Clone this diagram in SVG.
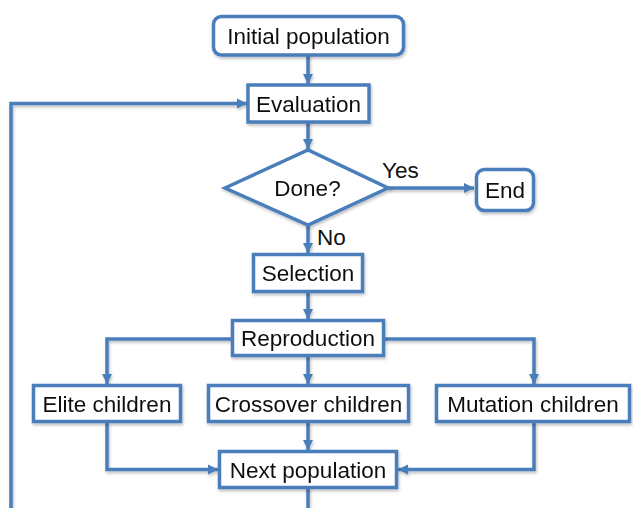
<svg xmlns="http://www.w3.org/2000/svg" width="633" height="508" viewBox="0 0 633 508">
<defs>
<marker id="ah" markerUnits="userSpaceOnUse" markerWidth="12" markerHeight="12" viewBox="0 0 12 12" refX="11" refY="6" orient="auto">
<path d="M1,1 L11,6 L1,11 Z" fill="#4A7EBB"/>
</marker>
<filter id="sh" x="-10%" y="-10%" width="120%" height="130%">
<feDropShadow dx="1" dy="2" stdDeviation="1.5" flood-color="#000" flood-opacity="0.25"/>
</filter>
</defs>
<style>
.box{fill:#fff;stroke:#4A7EBB;stroke-width:3.5}
.ln{fill:none;stroke:#4A7EBB;stroke-width:3.5}
text{font-family:"Liberation Sans",Arial,sans-serif;font-size:22.5px;fill:#111;text-anchor:middle}
.lb{text-anchor:start}
</style>
<rect width="633" height="508" fill="#fff"/>
<g id="connectors" filter="url(#sh)">
<path class="ln" d="M308,55 V84" marker-end="url(#ah)"/>
<path class="ln" d="M11,508 V103.5 H247" marker-end="url(#ah)"/>
<path class="ln" d="M308,122 V149" marker-end="url(#ah)"/>
<path class="ln" d="M388,188 H474" marker-end="url(#ah)"/>
<path class="ln" d="M308,225 V253" marker-end="url(#ah)"/>
<path class="ln" d="M308,292 V319" marker-end="url(#ah)"/>
<path class="ln" d="M232,339 H107 V384" marker-end="url(#ah)"/>
<path class="ln" d="M384,339 H534 V384" marker-end="url(#ah)"/>
<path class="ln" d="M308,356 V384" marker-end="url(#ah)"/>
<path class="ln" d="M107,422 V469.5 H218" marker-end="url(#ah)"/>
<path class="ln" d="M308,422 V450" marker-end="url(#ah)"/>
<path class="ln" d="M534,422 V469.5 H398" marker-end="url(#ah)"/>
<path class="ln" d="M308,488 V508"/>
</g>
<g id="initial" filter="url(#sh)">
<rect class="box" x="213.5" y="16.5" width="190" height="38.5" rx="8"/>
<text x="308.5" y="44">Initial population</text>
</g>
<g id="evaluation" filter="url(#sh)">
<rect class="box" x="248" y="85" width="121" height="37"/>
<text x="308.5" y="111.5">Evaluation</text>
</g>
<g id="done" filter="url(#sh)">
<polygon class="box" points="225,188 308,150 388,188 308,225"/>
<text x="307.5" y="196">Done?</text>
</g>
<g id="yes-label"><text class="lb" x="382" y="178">Yes</text></g>
<g id="no-label"><text class="lb" x="317" y="245">No</text></g>
<g id="end" filter="url(#sh)">
<rect class="box" x="476.5" y="169.5" width="57" height="41" rx="8"/>
<text x="505" y="198">End</text>
</g>
<g id="selection" filter="url(#sh)">
<rect class="box" x="253.5" y="254.5" width="109" height="37"/>
<text x="308" y="281">Selection</text>
</g>
<g id="reproduction" filter="url(#sh)">
<rect class="box" x="232.5" y="320.5" width="151" height="35"/>
<text x="308" y="346">Reproduction</text>
</g>
<g id="elite" filter="url(#sh)">
<rect class="box" x="33.5" y="385.5" width="147" height="36"/>
<text x="107" y="411.5">Elite children</text>
</g>
<g id="crossover" filter="url(#sh)">
<rect class="box" x="208.5" y="385.5" width="200" height="36"/>
<text x="308.5" y="411.5">Crossover children</text>
</g>
<g id="mutation" filter="url(#sh)">
<rect class="box" x="436.5" y="385.5" width="193" height="36"/>
<text x="533" y="411.5">Mutation children</text>
</g>
<g id="next" filter="url(#sh)">
<rect class="box" x="219.5" y="451.5" width="177" height="36"/>
<text x="308" y="477.5">Next population</text>
</g>
</svg>
